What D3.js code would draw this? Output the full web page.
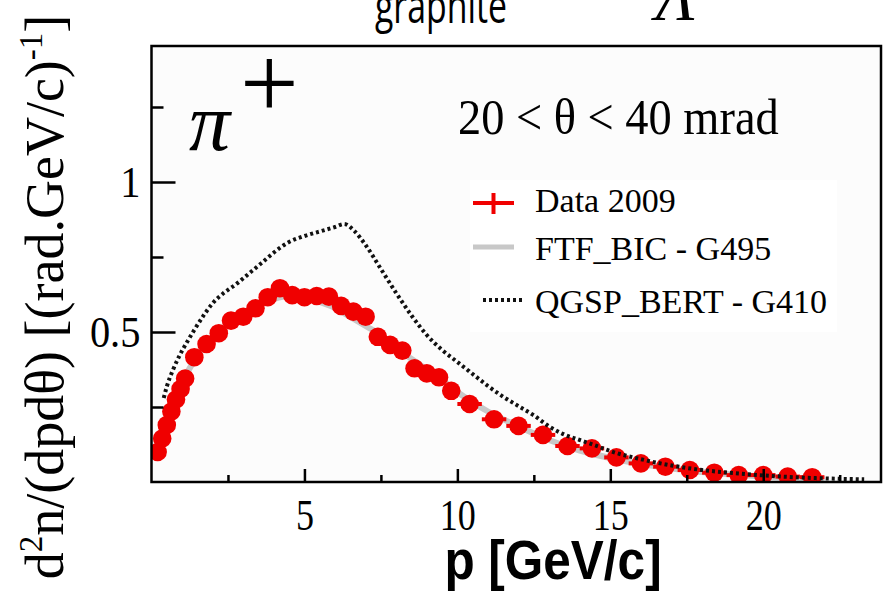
<!DOCTYPE html>
<html>
<head>
<meta charset="utf-8">
<script src="https://cdn.jsdelivr.net/npm/d3@7"></script>
<style>
  html, body { margin: 0; padding: 0; background: #ffffff; }
  svg { display: block; }
</style>
</head>
<body>
<svg id="chart" width="887" height="593"></svg>
<script>
// pi+ production, 20 < theta < 40 mrad, graphite target

// measured spectrum: momentum bin centres, values and half bin widths
const dataP = [0.2, 0.35, 0.5, 0.65, 0.8, 0.95, 1.1,
  1.4, 1.8, 2.2, 2.6, 3.0, 3.4, 3.8, 4.2, 4.6, 5.0, 5.4, 5.8, 6.2, 6.6, 7.0,
  7.4, 7.8, 8.2, 8.6, 9.0, 9.4, 9.8,
  10.4, 11.2, 12.0, 12.8, 13.6, 14.4, 15.2, 16.0, 16.8, 17.6, 18.4, 19.2, 20.0, 20.8, 21.6];
const dataV = [0.10, 0.145, 0.19, 0.235, 0.275, 0.31, 0.345,
  0.416, 0.46, 0.496, 0.538, 0.551, 0.579, 0.616, 0.646, 0.623, 0.616, 0.62, 0.618, 0.587, 0.568, 0.551,
  0.484, 0.457, 0.438, 0.379, 0.362, 0.349, 0.304,
  0.26, 0.209, 0.187, 0.157, 0.12, 0.112, 0.082, 0.062, 0.051, 0.04, 0.031, 0.023, 0.023, 0.018, 0.016];
const dataErrP = [0.075, 0.075, 0.075, 0.075, 0.075, 0.075, 0.075,
  0.2, 0.2, 0.2, 0.2, 0.2, 0.2, 0.2, 0.2, 0.2, 0.2, 0.2, 0.2, 0.2, 0.2, 0.2,
  0.2, 0.2, 0.2, 0.2, 0.2, 0.2, 0.2,
  0.4, 0.4, 0.4, 0.4, 0.4, 0.4, 0.4, 0.4, 0.4, 0.4, 0.4, 0.4, 0.4, 0.4, 0.4];

// FTF_BIC (Geant4 9.5)
const ftfP = [0.2, 0.5, 0.8, 1.0, 1.5, 2.0, 2.5, 3.0, 3.5, 4.0, 4.5, 5.0, 5.5, 6.0, 6.5, 7.0, 7.5, 8.0, 8.5,
  9.0, 9.5, 10.0, 11.0, 12.0, 13.0, 14.0, 15.0, 16.0, 17.0, 18.0, 19.0, 20.0, 21.0, 22.0];
const ftfV = [0.10, 0.20, 0.28, 0.33, 0.42, 0.48, 0.525, 0.56, 0.59, 0.61, 0.62, 0.615, 0.60, 0.58, 0.55, 0.52, 0.49, 0.45, 0.41,
  0.375, 0.34, 0.30, 0.235, 0.185, 0.14, 0.105, 0.08, 0.06, 0.045, 0.033, 0.025, 0.018, 0.013, 0.01];

// QGSP_BERT (Geant4 9.4)
const qgspP = [0.4, 0.5, 0.7, 0.9, 1.2, 1.4, 1.75, 2.0, 2.35, 2.8, 3.2, 3.6, 4.0, 4.5, 5.0, 5.5, 6.0, 6.3, 6.6,
  7.0, 7.5, 8.0, 8.5, 9.0, 9.5, 10.0, 10.5, 11.0, 11.5, 12.0, 12.5, 13.0, 13.5, 14.0, 14.5, 15.0,
  16.0, 17.0, 18.0, 19.0, 20.0, 21.0, 22.0, 23.3];
const qgspV = [0.28, 0.318, 0.373, 0.418, 0.473, 0.507, 0.562, 0.596, 0.629, 0.662, 0.696, 0.73, 0.765, 0.80, 0.82, 0.835, 0.85, 0.86, 0.84,
  0.79, 0.71, 0.63, 0.555, 0.49, 0.44, 0.40, 0.36, 0.32, 0.284, 0.253, 0.222, 0.185, 0.158, 0.14, 0.122, 0.103,
  0.076, 0.055, 0.04, 0.03, 0.022, 0.016, 0.012, 0.009];

const xMajorTicks = [5, 10, 15, 20];
const xMinorTicks = [2.5, 7.5, 12.5, 17.5, 22.5];
const yMajorTicks = [0.5, 1];
const yMinorTicks = [0.25, 0.75, 1.25];

const legendLabels = ["Data 2009", "FTF_BIC - G495", "QGSP_BERT - G410"];

const svg = d3.select("#chart");
const frameL = 151.5, frameR = 881, frameT = 46, frameB = 482;

const x = d3.scaleLinear().domain([0, 23.85]).range([frameL, frameR]);
const y = d3.scaleLinear().domain([0, 1.45]).range([frameB, frameB - 1.45 * 300]);

const serif = "'Liberation Serif', 'Times New Roman', serif";
const sans = "'Liberation Sans', Arial, sans-serif";

function label(txt, px, py, opts) {
  const o = Object.assign({ size: 30, family: serif, sx: 1, anchor: "start", weight: "normal", style: "normal" }, opts || {});
  return svg.append("text")
    .attr("transform", `translate(${px},${py}) scale(${o.sx},1)`)
    .attr("text-anchor", o.anchor)
    .attr("font-family", o.family)
    .attr("font-size", o.size)
    .attr("font-weight", o.weight)
    .attr("font-style", o.style)
    .attr("fill", "#000")
    .text(txt);
}

// header texts (partly cut by the top edge)
label("graphite", 441, 23, { family: "'Open Sans', 'Noto Sans', sans-serif", size: 47, sx: 0.72, anchor: "middle" });
label("Λ", 656, 20, { size: 64, style: "italic" });

// plot background and clip
svg.append("rect").attr("x", frameL).attr("y", frameT).attr("width", frameR - frameL).attr("height", frameB - frameT)
  .attr("fill", "#fcfcfc");
svg.append("clipPath").attr("id", "plotclip").append("rect")
  .attr("x", frameL).attr("y", frameT).attr("width", frameR - frameL).attr("height", frameB - frameT);

// legend box
svg.append("rect").attr("x", 470).attr("y", 180).attr("width", 367).attr("height", 152).attr("fill", "#ffffff");

const plot = svg.append("g").attr("clip-path", "url(#plotclip)");

// FTF_BIC prediction: thick light grey band
plot.append("path")
  .datum(ftfP.map((p, i) => [p, ftfV[i]]))
  .attr("fill", "none").attr("stroke", "#c8c8c8").attr("stroke-width", 6)
  .attr("stroke-linejoin", "round")
  .attr("d", d3.line().x(d => x(d[0])).y(d => y(d[1])).curve(d3.curveMonotoneX));

// data: horizontal bin widths and markers
const pts = dataP.map((p, i) => ({ p, v: dataV[i], e: dataErrP[i] }));
plot.append("g").selectAll("line").data(pts).join("line")
  .attr("x1", d => x(d.p - d.e)).attr("x2", d => x(d.p + d.e))
  .attr("y1", d => y(d.v)).attr("y2", d => y(d.v))
  .attr("stroke", "#f00000").attr("stroke-width", 4);
plot.append("g").selectAll("circle").data(pts).join("circle")
  .attr("cx", d => x(d.p)).attr("cy", d => y(d.v)).attr("r", 9.3)
  .attr("fill", "#f00000");

// QGSP_BERT prediction: dotted black line
plot.append("path")
  .datum(qgspP.map((p, i) => [p, qgspV[i]]))
  .attr("fill", "none").attr("stroke", "#111").attr("stroke-width", 4)
  .attr("stroke-dasharray", "3,3")
  .attr("d", d3.line().x(d => x(d[0])).y(d => y(d[1])).curve(d3.curveMonotoneX));

// axes: ticks point inward, frame drawn separately
function styleAxis(g) {
  g.select(".domain").remove();
  g.selectAll(".tick line").attr("stroke", "#000").attr("stroke-width", 2.5);
}
svg.append("g").attr("transform", `translate(0,${frameB})`)
  .call(d3.axisBottom(x).tickValues(xMinorTicks).tickSizeInner(-7).tickSizeOuter(0).tickFormat(""))
  .call(styleAxis);
const xAx = svg.append("g").attr("transform", `translate(0,${frameB})`)
  .call(d3.axisBottom(x).tickValues(xMajorTicks).tickSizeInner(-13).tickSizeOuter(0).tickPadding(17))
  .call(styleAxis);
xAx.selectAll(".tick text")
  .attr("font-family", serif).attr("font-size", 44).attr("fill", "#000")
  .attr("transform", "scale(0.82,1)");

svg.append("g").attr("transform", `translate(${frameL},0)`)
  .call(d3.axisLeft(y).tickValues(yMinorTicks).tickSizeInner(-12).tickSizeOuter(0).tickFormat(""))
  .call(styleAxis);
const yAx = svg.append("g").attr("transform", `translate(${frameL},0)`)
  .call(d3.axisLeft(y).tickValues(yMajorTicks).tickSizeInner(-24).tickSizeOuter(0).tickPadding(12)
    .tickFormat(d => d === 1 ? "1" : d3.format(".1f")(d)))
  .call(styleAxis);
yAx.selectAll(".tick text")
  .attr("font-family", serif).attr("font-size", 44).attr("fill", "#000")
  .attr("transform", "scale(0.92,1)");

// frame
svg.append("rect").attr("x", frameL).attr("y", frameT).attr("width", frameR - frameL).attr("height", frameB - frameT)
  .attr("fill", "none").attr("stroke", "#000").attr("stroke-width", 2.5);

// axis titles
label("p [GeV/c]", 553, 579, { family: sans, size: 55, weight: "bold", sx: 0.9, anchor: "middle" });

const yt = svg.append("text")
  .attr("transform", "translate(63,297) rotate(-90)")
  .attr("text-anchor", "middle")
  .attr("font-family", serif).attr("font-size", 54).attr("fill", "#000");
yt.append("tspan").text("d");
yt.append("tspan").attr("font-size", 33).attr("dy", -21).text("2");
yt.append("tspan").attr("dy", 21).text("n/(dpdθ) [(rad.GeV/c)");
yt.append("tspan").attr("font-size", 33).attr("dy", -21).text("-1");
yt.append("tspan").attr("dy", 21).text("]");

// particle and angular range
label("π", 189, 150, { size: 82, style: "italic" });
label("+", 240, 118, { size: 104 });
label("20 < θ < 40 mrad", 458, 134, { size: 51, sx: 0.91 });

// legend
const lx0 = 473, lx1 = 514;
svg.append("line").attr("x1", lx0).attr("x2", lx1).attr("y1", 203).attr("y2", 203)
  .attr("stroke", "#f00000").attr("stroke-width", 4);
svg.append("line").attr("x1", (lx0 + lx1) / 2).attr("x2", (lx0 + lx1) / 2).attr("y1", 193).attr("y2", 214)
  .attr("stroke", "#f00000").attr("stroke-width", 4);
svg.append("line").attr("x1", lx0).attr("x2", lx1).attr("y1", 247).attr("y2", 247)
  .attr("stroke", "#c8c8c8").attr("stroke-width", 5);
svg.append("line").attr("x1", 483).attr("x2", 522).attr("y1", 300).attr("y2", 300)
  .attr("stroke", "#111").attr("stroke-width", 4).attr("stroke-dasharray", "3,3");
label(legendLabels[0], 535, 212, { size: 34 });
label(legendLabels[1], 535, 260, { size: 34 });
label(legendLabels[2], 535, 313, { size: 34 });
</script>
</body>
</html>
